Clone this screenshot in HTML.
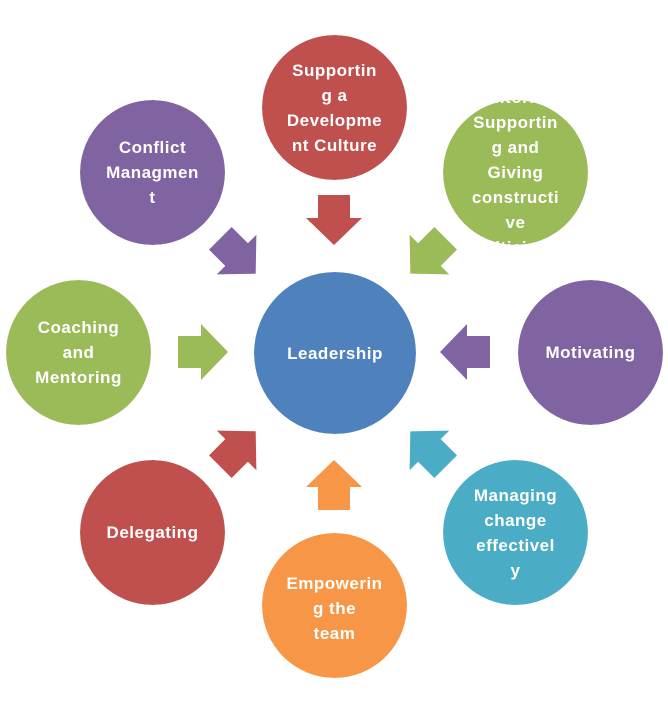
<!DOCTYPE html>
<html><head><style>
body{margin:0;width:668px;height:706px;background:#fff;position:relative;overflow:hidden;font-family:"Liberation Sans",sans-serif}
.c{position:absolute;border-radius:50%;display:flex;align-items:center;justify-content:center;text-align:center;color:#fff;font-weight:bold;font-size:17px;line-height:25px;letter-spacing:0.5px;overflow:hidden;clip-path:circle(50%);white-space:nowrap}
svg{position:absolute;left:0;top:0}
</style></head><body>
<svg width="668" height="706">
<defs><polygon id="a" points="-16,-25 16,-25 16,-2 28,-2 0,25 -28,-2 -16,-2"/></defs>
<use href="#a" fill="#c0504d" transform="translate(334,220)"/>
<use href="#a" fill="#9bbb59" transform="translate(203,352) rotate(-90)"/>
<use href="#a" fill="#8064a2" transform="translate(465,352) rotate(90)"/>
<use href="#a" fill="#f79646" transform="translate(334,485) rotate(180)"/>
<use href="#a" fill="#8064a2" transform="translate(238,256) rotate(-45)"/>
<use href="#a" fill="#9bbb59" transform="translate(428,256) rotate(45)"/>
<use href="#a" fill="#c0504d" transform="translate(238,449) rotate(-135)"/>
<use href="#a" fill="#4bacc6" transform="translate(428,449) rotate(135)"/>
</svg>
<div class="c" style="left:254px;top:272px;width:162px;height:162px;background:#4f81bd"><span>Leadership</span></div>
<div class="c" style="left:262px;top:35px;width:145px;height:145px;background:#c0504d"><span>Supportin<br>g a<br>Developme<br>nt Culture</span></div>
<div class="c" style="left:443px;top:100px;width:145px;height:145px;background:#9bbb59"><span>Mentoring,<br>Supportin<br>g and<br>Giving<br>constructi<br>ve<br>criticism</span></div>
<div class="c" style="left:518px;top:280px;width:145px;height:145px;background:#8064a2"><span>Motivating</span></div>
<div class="c" style="left:443px;top:460px;width:145px;height:145px;background:#4bacc6"><span>Managing<br>change<br>effectivel<br>y</span></div>
<div class="c" style="left:262px;top:533px;width:145px;height:145px;background:#f79646"><span style="margin-top:6px">Empowerin<br>g the<br>team</span></div>
<div class="c" style="left:80px;top:460px;width:145px;height:145px;background:#c0504d"><span>Delegating</span></div>
<div class="c" style="left:6px;top:280px;width:145px;height:145px;background:#9bbb59"><span>Coaching<br>and<br>Mentoring</span></div>
<div class="c" style="left:80px;top:100px;width:145px;height:145px;background:#8064a2"><span>Conflict<br>Managmen<br>t</span></div>
</body></html>
